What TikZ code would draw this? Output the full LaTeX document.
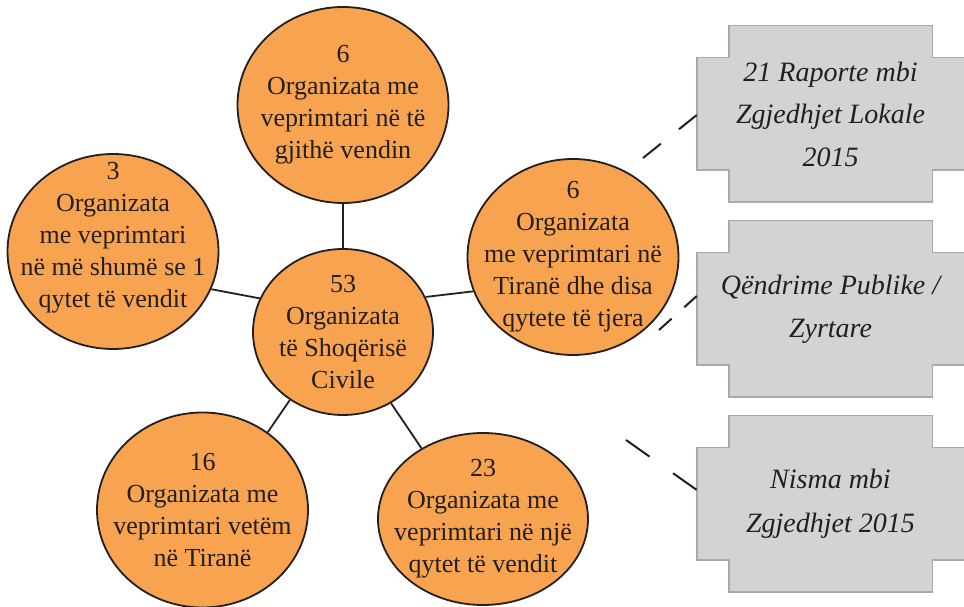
\documentclass[tikz,border=0pt]{standalone}
\usepackage{fontspec}
\setmainfont{Liberation Serif}
\usetikzlibrary{shapes.geometric, backgrounds}
\definecolor{orgfill}{HTML}{F8A34F}
\definecolor{ink}{HTML}{231F20}
\definecolor{plaquefill}{HTML}{D1D3D4}
\definecolor{plaqueline}{HTML}{A7A9AC}
\tikzstyle{org} = [ellipse, draw=ink, fill=orgfill, line width=1.8pt, inner sep=-40pt, align=center, text=ink, font=\rmfamily\fontsize{26}{32}\selectfont]
\tikzstyle{orgL} = [org, minimum width=211pt, minimum height=196pt]
\tikzstyle{plaque} = [rectangle, minimum width=267pt, minimum height=176pt, inner sep=0pt, align=center, text=ink]
\tikzstyle{link} = [draw=ink, line width=1.8pt]
\tikzstyle{lead} = [draw=ink, line width=2pt]

\begin{document}
\begin{tikzpicture}[x=1pt, y=1pt, node distance=195pt]
\useasboundingbox (0,0) rectangle (964,607);
\node (civil) [org, minimum width=180pt, minimum height=166pt] at (343,275) {53\\Organizata\\të Shoqërisë\\Civile};
\node (national) [orgL] at (343,502) {6\\Organizata me\\veprimtari në të\\gjithë vendin};
\node (multiCity) [orgL, minimum height=195pt, text depth=33pt] at (113,355.5) {3\\Organizata\\me veprimtari\\në më shumë se 1\\qytet të vendit};
\node (tiranaOthers) [orgL] at (573,350) {6\\Organizata\\me veprimtari në\\Tiranë dhe disa\\qytete të tjera};
\node (tiranaOnly) [orgL, minimum height=195pt] at (202.5,97) {16\\Organizata me\\veprimtari vetëm\\në Tiranë};
\node (oneCity) [org, minimum width=210pt, minimum height=172pt] at (483,88) {23\\Organizata me\\veprimtari në një\\qytet të vendit};

\node (raporte) [plaque, font=\rmfamily\itshape\fontsize{28}{42.5}\selectfont] at (830.5,493) {21 Raporte mbi\\Zgjedhjet Lokale\\2015};
\node (qendrime) [plaque, below of=raporte, font=\rmfamily\itshape\fontsize{28}{43}\selectfont] {Qëndrime Publike /\\Zyrtare};
\node (nisma) [plaque, below of=qendrime, font=\rmfamily\itshape\fontsize{28}{44}\selectfont] {Nisma mbi\\Zgjedhjet 2015};

% notched grey plaques behind the texts
\begin{scope}[on background layer]
\foreach \b in {raporte, qendrime, nisma}
  \draw [fill=plaquefill, draw=plaqueline, line width=1.4pt]
    ([xshift=32pt]\b.north west) -- ([xshift=-32pt]\b.north east) -- ([xshift=-32pt, yshift=-32pt]\b.north east)
    -- ([yshift=-32pt]\b.north east) -- ([yshift=32pt]\b.south east) -- ([xshift=-32pt, yshift=32pt]\b.south east)
    -- ([xshift=-32pt]\b.south east) -- ([xshift=32pt]\b.south west) -- ([xshift=32pt, yshift=32pt]\b.south west)
    -- ([yshift=32pt]\b.south west) -- ([yshift=-32pt]\b.north west) -- ([xshift=32pt, yshift=-32pt]\b.north west) -- cycle;
\end{scope}

\draw [link] (civil) -- (national);
\draw [link] (civil.158) -- (multiCity.-21);
\draw [link] (civil.23) -- (tiranaOthers.-161);
\draw [link] (civil.-128) -- (tiranaOnly.50);
\draw [link] (civil.-56) -- (oneCity.131);

\coordinate (raporteEnd) at (643,449);
\coordinate (qendrimeEnd) at (659,277);
\coordinate (nismaEnd) at (626,167);
\draw [lead, dash pattern=on 23pt off 23pt] (raporteEnd) -- ([yshift=-1pt]raporte.west);
\draw [lead, dash pattern=on 17pt off 17pt] (qendrimeEnd) -- ([yshift=13pt]qendrime.west);
\draw [lead, dash pattern=on 28.8pt off 28.8pt] (nismaEnd) -- ([yshift=14pt]nisma.west);

\end{tikzpicture}
\end{document}
